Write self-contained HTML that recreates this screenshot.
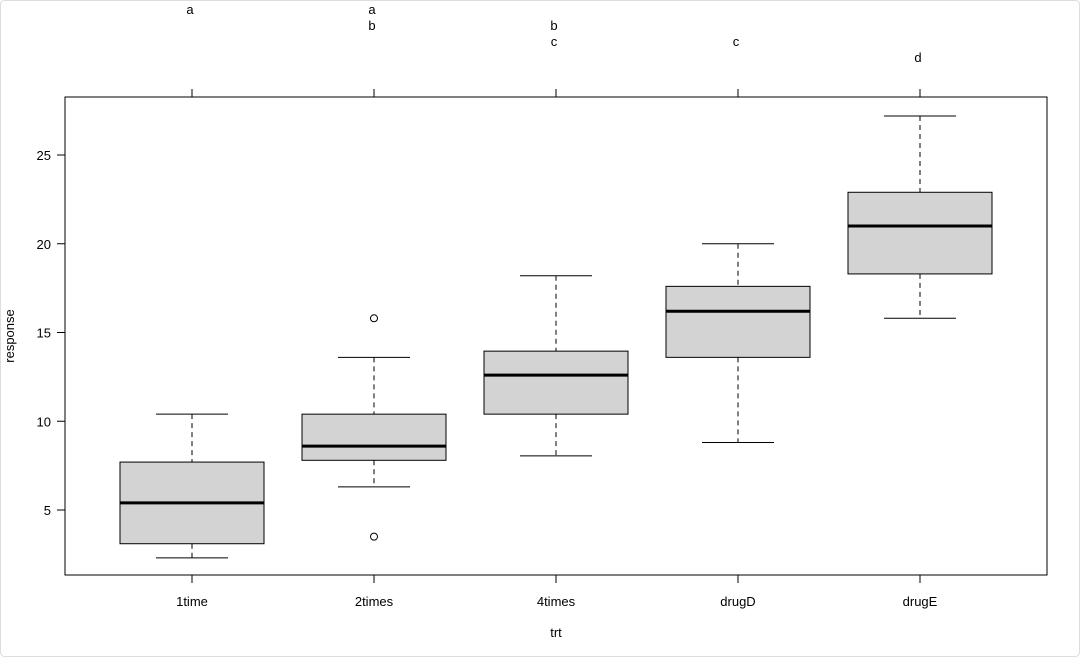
<!DOCTYPE html>
<html><head><meta charset="utf-8"><style>
html,body{margin:0;padding:0;background:#fff;}
svg{display:block;font-family:"Liberation Sans",Arial,sans-serif;}
</style></head><body>
<svg id="chart" width="1080" height="657" viewBox="0 0 1080 657">
<rect x="0.5" y="0.5" width="1079" height="656" rx="4" fill="#fff" stroke="#ddd"/>
</svg>
<script>
const categories=["1time","2times","4times","drugD","drugE"];
const whiskerLow=[2.3,6.3,8.05,8.8,15.8];
const q1=[3.1,7.8,10.4,13.6,18.3];
const medians=[5.4,8.6,12.6,16.2,21.0];
const q3=[7.7,10.4,13.95,17.6,22.9];
const whiskerHigh=[10.4,13.6,18.2,20.0,27.2];
const outliers=[[],[15.8,3.5],[],[],[]];
const groupLetters=[["a"],["a","b"],["b","c"],["c"],["d"]];
const yTicks=[5,10,15,20,25];

const NS="http://www.w3.org/2000/svg";
const svg=document.getElementById("chart");
const L=65,R=1047,T=97,B=575;
function y(v){return 510-(v-5)*17.75;}
function x(i){return 192+i*182;}
function mk(tag,attrs,parent){const e=document.createElementNS(NS,tag);for(const k in attrs)e.setAttribute(k,attrs[k]);(parent||svg).appendChild(e);return e;}

const plot=mk("rect",{x:L,y:T,width:R-L,height:B-T,fill:"none",stroke:"#000","stroke-width":1});



yTicks.forEach(v=>{
  const g=mk("g",{});
  
  
  mk("line",{x1:L-8,x2:L,y1:y(v),y2:y(v),stroke:"#000"},g);
  const t=mk("text",{x:L-14,y:y(v)+5,"text-anchor":"end","font-size":13},g);t.textContent=v;
});

const hw=72;
categories.forEach((c,i)=>{
  const cx=x(i);
  const g=mk("g",{});
  
  
  mk("line",{x1:cx,x2:cx,y1:y(whiskerHigh[i]),y2:y(q3[i]),stroke:"#000","stroke-dasharray":"5,4"},g);
  mk("line",{x1:cx,x2:cx,y1:y(q1[i]),y2:y(whiskerLow[i]),stroke:"#000","stroke-dasharray":"5,4"},g);
  mk("line",{x1:cx-36,x2:cx+36,y1:y(whiskerHigh[i]),y2:y(whiskerHigh[i]),stroke:"#000"},g);
  mk("line",{x1:cx-36,x2:cx+36,y1:y(whiskerLow[i]),y2:y(whiskerLow[i]),stroke:"#000"},g);
  mk("rect",{x:cx-hw,y:y(q3[i]),width:2*hw,height:y(q1[i])-y(q3[i]),fill:"#d3d3d3",stroke:"#000"},g);
  mk("line",{x1:cx-hw,x2:cx+hw,y1:y(medians[i]),y2:y(medians[i]),stroke:"#000","stroke-width":3},g);
  outliers[i].forEach(o=>{mk("circle",{cx:cx,cy:y(o),r:3.5,fill:"none",stroke:"#000"},g);});
  // bottom tick & label
  mk("line",{x1:cx,x2:cx,y1:B,y2:B+8,stroke:"#000"},g);
  const t=mk("text",{x:cx,y:B+31,"text-anchor":"middle","font-size":13},g);t.textContent=c;
  // top tick & letters
  mk("line",{x1:cx,x2:cx,y1:T-8,y2:T,stroke:"#000"},g);
  const n=groupLetters[i].length;
  groupLetters[i].forEach((l,j)=>{
    const row=(i===4?3:(i===3?2:(i===2?1:0)))+j;
    const tt=mk("text",{x:cx-2,y:14+row*16,"text-anchor":"middle","font-size":13},g);tt.textContent=l;
  });
});

const xl=mk("text",{x:556,y:637,"text-anchor":"middle","font-size":13});xl.textContent="trt";


const yl=mk("text",{x:14,y:336,"text-anchor":"middle","font-size":13,transform:"rotate(-90 14 336)"});yl.textContent="response";


</script>
</body></html>
